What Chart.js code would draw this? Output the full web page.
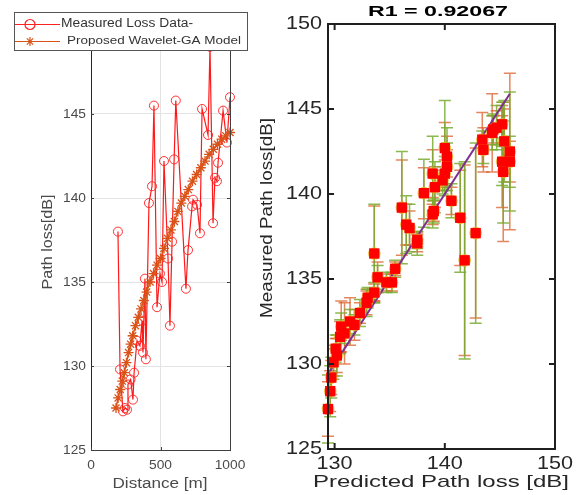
<!DOCTYPE html>
<html><head><meta charset="utf-8">
<script src="https://cdn.jsdelivr.net/npm/chart.js@4.4.1/dist/chart.umd.min.js"></script>
<style>
html,body{margin:0;padding:0;background:#fff;width:579px;height:495px;overflow:hidden;}
#c1{position:absolute;left:0;top:0;}
#c2{position:absolute;left:250px;top:0;}
</style></head><body>
<canvas id="c1" width="250" height="495"></canvas>
<canvas id="c2" width="329" height="495"></canvas>
<script>
// ---------- Left chart data ----------
const measLabel = 'Measured Loss Data-';
const modelLabel = 'Proposed Wavelet-GA Model';
const measDist = [194, 209, 230, 245, 259, 266, 285, 302, 310, 331, 352, 367, 374, 388, 395, 417, 439, 453, 475, 496, 511, 525, 554, 568, 583, 598, 610, 683, 698, 727, 734, 763, 784, 799, 842, 856, 878, 892, 906, 914, 950, 978, 1000];
const measLoss = [138.0, 129.8, 127.3, 127.5, 127.4, 128.9, 129.2, 128.0, 129.6, 131.5, 131.2, 132.7, 130.8, 135.2, 130.4, 139.7, 140.7, 145.5, 133.5, 135.5, 135.0, 142.2, 136.4, 132.4, 137.4, 142.3, 145.8, 134.6, 136.9, 139.5, 139.9, 139.6, 137.9, 145.3, 143.75, 149.0, 138.5, 141.2, 141.0, 142.1, 145.2, 143.3, 146.0];
const modelDist = [180, 195, 210, 225, 240, 255, 270, 285, 300, 320, 340, 360, 380, 400, 425, 450, 475, 500, 525, 550, 575, 600, 625, 650, 675, 700, 730, 760, 790, 820, 850, 880, 910, 940, 970, 1000];
const modelLoss = [127.5, 128.1, 128.6, 129.1, 129.6, 130.2, 130.8, 131.3, 131.8, 132.4, 132.9, 133.4, 133.9, 134.4, 135.0, 135.5, 136.0, 136.4, 137.0, 137.6, 138.1, 138.6, 139.2, 139.7, 140.1, 140.5, 141.0, 141.4, 141.8, 142.2, 142.6, 142.9, 143.2, 143.5, 143.7, 143.9];
const leftXTicks = [0, 500, 1000];
const leftYTicks = [125, 130, 135, 140, 145, 150];
const leftXTitle = 'Distance [m]';
const leftYTitle = 'Path loss[dB]';

// ---------- Right chart data ----------
const rightTitle = 'R1 = 0.92067';
const predicted = [129.4, 129.6, 129.7, 129.9, 130.2, 130.1, 130.5, 130.9, 130.6, 131.4, 131.8, 132.3, 132.9, 133.0, 133.6, 133.9, 134.7, 135.2, 135.5, 133.6, 137.5, 137.5, 136.1, 136.5, 136.8, 138.1, 138.9, 139.1, 138.9, 139.0, 140.0, 140.2, 140.2, 140.0, 139.8, 140.6, 141.4, 141.8, 142.8, 143.4, 143.5, 144.3, 144.7, 145.2, 145.4, 145.2, 145.3, 145.9, 145.9, 144.4];
const measured = [127.35, 128.4, 129.2, 130.1, 130.5, 130.9, 131.6, 131.8, 132.2, 132.5, 132.3, 133.0, 133.6, 133.9, 134.2, 135.1, 134.8, 134.8, 135.6, 136.5, 137.1, 137.3, 139.2, 138.2, 138.0, 140.05, 141.2, 140.4, 138.8, 139.0, 142.7, 142.2, 141.6, 141.2, 140.8, 139.6, 138.6, 136.1, 137.7, 143.2, 142.6, 143.6, 143.9, 144.1, 143.1, 141.9, 141.3, 142.5, 141.9, 143.8];
const errGreen = [2.0, 1.5, 1.2, 1.0, 1.2, 0.8, 1.0, 0.6, 0.8, 0.7, 0.6, 0.8, 0.8, 0.6, 0.6, 0.7, 0.6, 0.6, 0.5, 2.9, 0.7, 0.5, 3.3, 1.7, 1.4, 2.0, 2.2, 1.5, 0.8, 0.7, 2.8, 1.7, 1.4, 1.0, 0.8, 1.0, 3.2, 5.8, 5.3, 0.5, 0.8, 1.0, 1.3, 1.3, 2.4, 1.4, 3.0, 3.5, 1.5, 0.9];
const errOrange = [1.6, 1.2, 1.0, 0.8, 1.0, 0.6, 0.9, 1.8, 1.5, 1.4, 0.9, 0.6, 0.7, 0.5, 0.5, 0.9, 0.5, 0.5, 0.4, 2.8, 0.5, 0.4, 2.8, 1.2, 1.0, 1.5, 1.4, 1.2, 0.6, 0.6, 1.5, 1.2, 1.0, 0.8, 0.6, 0.8, 2.8, 5.6, 5.0, 1.6, 1.3, 2.3, 1.0, 1.1, 1.9, 2.7, 4.1, 4.6, 1.2, 0.8];
const fitLine = [129.4, 145.9];
const rightXTicks = [130, 140, 150];
const rightYTicks = [125, 130, 135, 140, 145, 150];
const rightXTitle = 'Predicted Path loss [dB]';
const rightYTitle = 'Measured Path loss[dB]';

// ---------- helpers ----------
const FONT = '"Liberation Sans", Arial, sans-serif';
function txt(ctx, s, x, y, o) {
  ctx.save();
  ctx.font = o.font;
  ctx.fillStyle = o.color || '#262626';
  ctx.textBaseline = 'middle';
  ctx.translate(x, y);
  if (o.rot) ctx.rotate(o.rot);
  const w = ctx.measureText(s).width;
  const sx = o.w ? o.w / w : (o.sx || 1);
  ctx.scale(sx, 1);
  ctx.textAlign = o.align || 'center';
  ctx.fillText(s, 0, 0);
  ctx.restore();
}
function setTicks(arr) { return function(scale) { scale.ticks = arr.map(v => ({value: v})); }; }

// ---------- Left chart ----------
const leftPlugin = {
  id: 'leftDecor',
  afterDraw(chart) {
    const {ctx, chartArea: a, scales: {x, y}} = chart;
    ctx.save();
    ctx.strokeStyle = '#404040'; ctx.lineWidth = 1;
    ctx.beginPath();
    ctx.moveTo(a.right + 0.5, a.bottom); ctx.lineTo(a.right + 0.5, a.top);
    ctx.lineTo(a.left, a.top + 0.5);
    ctx.stroke();
    ctx.beginPath();
    leftYTicks.forEach(v => { const py = Math.round(y.getPixelForValue(v)) + 0.5;
      ctx.moveTo(a.left, py); ctx.lineTo(a.left + 3, py);
      ctx.moveTo(a.right, py); ctx.lineTo(a.right - 3, py); });
    leftXTicks.forEach(v => { const px = Math.round(x.getPixelForValue(v)) + 0.5;
      ctx.moveTo(px, a.bottom); ctx.lineTo(px, a.bottom - 3); });
    ctx.stroke();
    leftYTicks.forEach(v => txt(ctx, String(v), a.left - 5, y.getPixelForValue(v), {font: '13px ' + FONT, color: '#4a4a4a', align: 'right', sx: 1.06}));
    leftXTicks.forEach(v => txt(ctx, String(v), x.getPixelForValue(v), 465, {font: '13px ' + FONT, color: '#4a4a4a', sx: 1.06}));
    txt(ctx, leftXTitle, 160, 484, {font: '14px ' + FONT, color: '#4a4a4a', w: 95});
    txt(ctx, leftYTitle, 48, 242, {font: '14px ' + FONT, color: '#4a4a4a', w: 95, rot: -Math.PI / 2});
    // legend
    ctx.fillStyle = '#ffffff';
    ctx.fillRect(14, 12, 234, 39);
    ctx.strokeStyle = '#555555'; ctx.lineWidth = 1;
    ctx.strokeRect(14.5, 12.5, 233, 38);
    const ds = chart.data.datasets;
    ctx.strokeStyle = '#ff2020'; ctx.lineWidth = 1.2;
    ctx.beginPath(); ctx.moveTo(15, 24.5); ctx.lineTo(60, 24.5); ctx.stroke();
    ctx.beginPath(); ctx.arc(30, 24.5, 5, 0, Math.PI * 2); ctx.stroke();
    txt(ctx, ds[1].label, 61, 24, {font: '12px ' + FONT, color: '#333333', align: 'left', w: 132});
    ctx.strokeStyle = '#D95319'; ctx.lineWidth = 1.2;
    ctx.beginPath(); ctx.moveTo(15, 41.5); ctx.lineTo(60, 41.5); ctx.stroke();
    ctx.beginPath();
    const r = 4.5, cx = 30, cy = 41.5;
    ctx.moveTo(cx - r, cy); ctx.lineTo(cx + r, cy);
    ctx.moveTo(cx, cy - r); ctx.lineTo(cx, cy + r);
    ctx.moveTo(cx - r * 0.7, cy - r * 0.7); ctx.lineTo(cx + r * 0.7, cy + r * 0.7);
    ctx.moveTo(cx - r * 0.7, cy + r * 0.7); ctx.lineTo(cx + r * 0.7, cy - r * 0.7);
    ctx.stroke();
    txt(ctx, ds[0].label, 67, 41, {font: '11px ' + FONT, color: '#333333', align: 'left', w: 174});
    ctx.restore();
  }
};

new Chart(document.getElementById('c1'), {
  type: 'scatter',
  data: {
    datasets: [
      {
        label: modelLabel,
        data: modelDist.map((d, i) => ({x: d, y: modelLoss[i]})),
        showLine: true, borderColor: '#D95319', borderWidth: 1.5,
        pointStyle: 'star', pointRadius: 5, pointBorderColor: '#D95319', pointBorderWidth: 1.3,
        pointBackgroundColor: '#D95319', clip: false, order: 0
      },
      {
        label: measLabel,
        data: measDist.map((d, i) => ({x: d, y: measLoss[i]})),
        showLine: true, borderColor: 'rgba(255,0,0,0.9)', borderWidth: 1.2,
        pointStyle: 'circle', pointRadius: 4.5, pointBorderColor: 'rgba(255,30,30,0.9)', pointBorderWidth: 1,
        pointBackgroundColor: 'rgba(0,0,0,0)', clip: false, order: 1
      }
    ]
  },
  options: {
    responsive: false, animation: false, devicePixelRatio: 1,
    layout: {padding: {left: 0, right: 20, top: 30, bottom: 0}},
    plugins: {legend: {display: false}, tooltip: {enabled: false}},
    scales: {
      x: {type: 'linear', min: 0, max: 1000, afterBuildTicks: setTicks(leftXTicks),
          afterFit: s => { s.height = 45; },
          ticks: {display: false}, grid: {color: '#e3e3e3', drawTicks: false},
          border: {color: '#404040', width: 1}},
      y: {type: 'linear', min: 125, max: 150, afterBuildTicks: setTicks(leftYTicks),
          afterFit: s => { s.width = 91; },
          ticks: {display: false}, grid: {color: '#e3e3e3', drawTicks: false},
          border: {color: '#262626', width: 1}}
    }
  },
  plugins: [leftPlugin]
});

// ---------- Right chart ----------
const rightPlugin = {
  id: 'rightDecor',
  beforeDatasetsDraw(chart) {
    const {ctx, scales: {x, y}} = chart;
    ctx.save();
    ctx.lineWidth = 1.5;
    const bar = (px, lo, hi, color) => {
      const ylo = y.getPixelForValue(lo), yhi = y.getPixelForValue(hi);
      ctx.strokeStyle = color;
      ctx.beginPath();
      ctx.moveTo(px, ylo); ctx.lineTo(px, yhi);
      ctx.moveTo(px - 6, ylo); ctx.lineTo(px + 6, ylo);
      ctx.moveTo(px - 6, yhi); ctx.lineTo(px + 6, yhi);
      ctx.stroke();
    };
    predicted.forEach((p, i) => {
      bar(x.getPixelForValue(p), measured[i] - errOrange[i], measured[i] + errOrange[i], 'rgba(217,83,25,0.7)');
    });
    predicted.forEach((p, i) => {
      bar(x.getPixelForValue(p), measured[i] - errGreen[i], measured[i] + errGreen[i], 'rgba(119,172,48,0.85)');
    });
    ctx.restore();
  },
  afterDraw(chart) {
    const {ctx, chartArea: a, scales: {x, y}} = chart;
    ctx.save();
    ctx.strokeStyle = '#1f1f1f'; ctx.lineWidth = 2;
    ctx.strokeRect(a.left, a.top, a.right - a.left, a.bottom - a.top);
    ctx.beginPath();
    rightYTicks.forEach(v => { const py = y.getPixelForValue(v);
      ctx.moveTo(a.left, py); ctx.lineTo(a.left + 6, py);
      ctx.moveTo(a.right, py); ctx.lineTo(a.right - 6, py); });
    rightXTicks.forEach(v => { const px = x.getPixelForValue(v);
      ctx.moveTo(px, a.bottom); ctx.lineTo(px, a.bottom - 6);
      ctx.moveTo(px, a.top); ctx.lineTo(px, a.top + 6); });
    ctx.stroke();
    rightYTicks.forEach(v => txt(ctx, String(v), a.left - 6, y.getPixelForValue(v), {font: '18px ' + FONT, color: '#262626', align: 'right', sx: 1.2}));
    rightXTicks.forEach(v => txt(ctx, String(v), x.getPixelForValue(v), 464, {font: '18px ' + FONT, color: '#262626', sx: 1.2}));
    txt(ctx, rightTitle, 188, 12, {font: 'bold 14px ' + FONT, color: '#000000', w: 140});
    txt(ctx, rightXTitle, 191, 482, {font: '17px ' + FONT, color: '#262626', w: 256});
    txt(ctx, rightYTitle, 17, 218, {font: '17px ' + FONT, color: '#262626', w: 200, rot: -Math.PI / 2});
    ctx.restore();
  }
};

new Chart(document.getElementById('c2'), {
  type: 'scatter',
  data: {
    datasets: [
      {
        data: predicted.map((p, i) => ({x: p, y: measured[i]})),
        pointStyle: 'rect', pointRadius: 7.3, pointBackgroundColor: '#ff0000', pointBorderWidth: 0,
        clip: false, order: 0
      },
      {
        data: predicted.map((p, i) => ({x: p, y: measured[i]})),
        pointStyle: 'circle', pointRadius: 6.3, pointBackgroundColor: 'rgba(237,177,32,0.8)', pointBorderWidth: 0,
        clip: false, order: 1
      },
      {
        data: fitLine.map(v => ({x: v, y: v})),
        showLine: true, borderColor: '#7E2F8E', borderWidth: 2, pointRadius: 0, order: 2
      }
    ]
  },
  options: {
    responsive: false, animation: false, devicePixelRatio: 1,
    layout: {padding: {left: 0, right: 24, top: 24, bottom: 0}},
    plugins: {legend: {display: false}, tooltip: {enabled: false}},
    scales: {
      x: {type: 'linear', min: 129.4, max: 150, afterBuildTicks: setTicks(rightXTicks),
          afterFit: s => { s.height = 46; },
          ticks: {display: false}, grid: {display: false, drawTicks: false},
          border: {display: false}},
      y: {type: 'linear', min: 125, max: 150, afterBuildTicks: setTicks(rightYTicks),
          afterFit: s => { s.width = 78; },
          ticks: {display: false}, grid: {display: false, drawTicks: false},
          border: {display: false}}
    }
  },
  plugins: [rightPlugin]
});
</script>
</body></html>
